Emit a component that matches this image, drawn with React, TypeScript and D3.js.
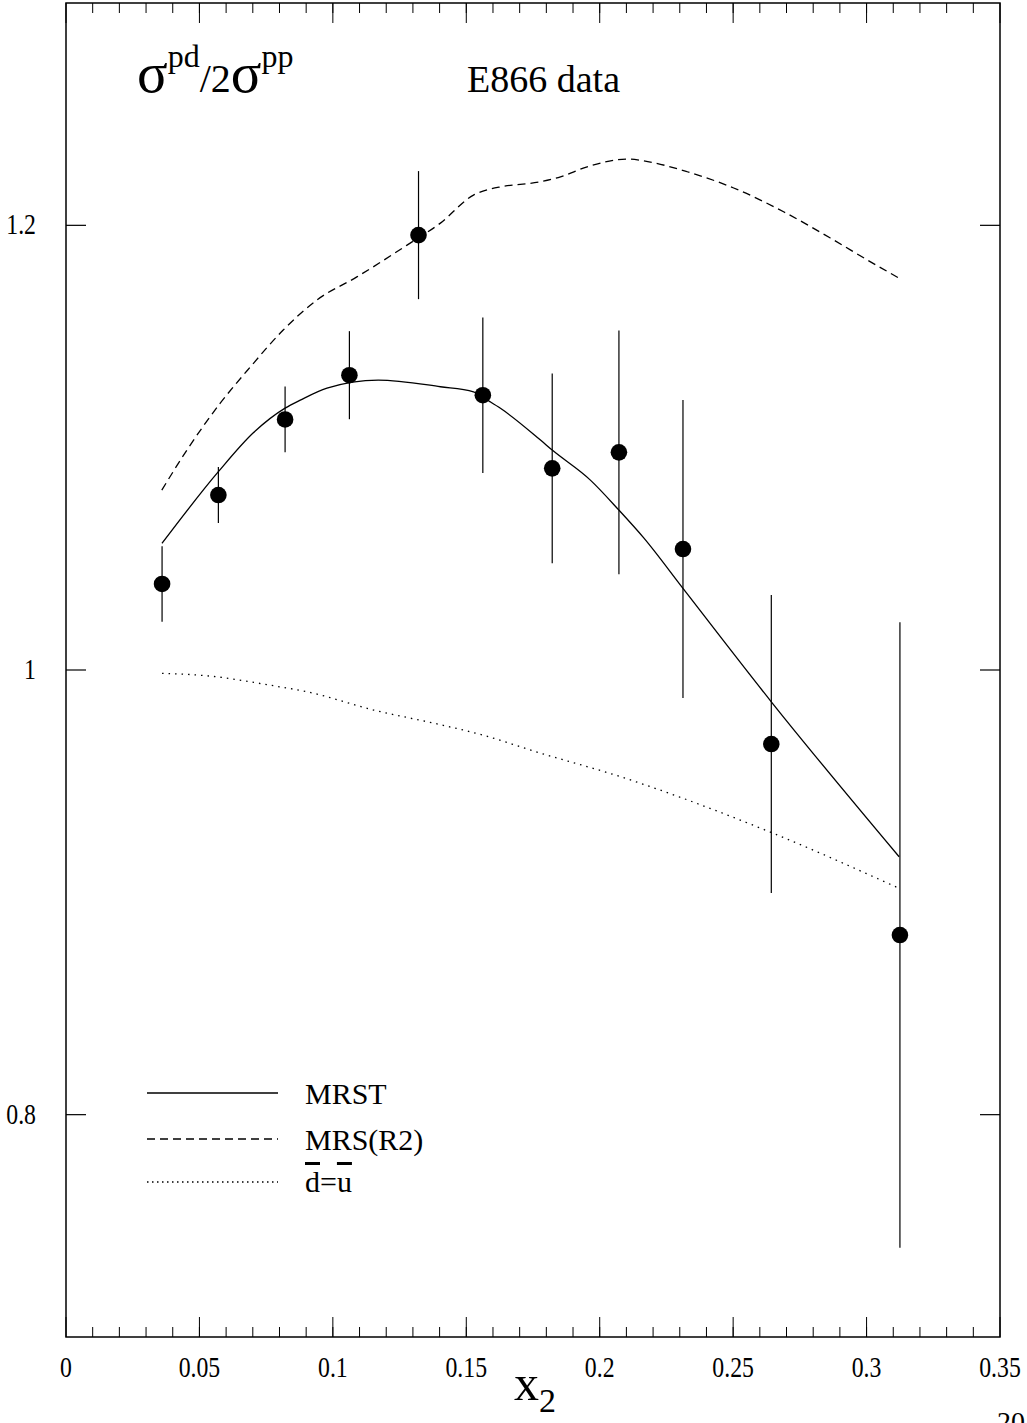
import React from 'react';
import * as d3 from 'd3';

// E866 data points
const pointX = [0.036, 0.0571, 0.0821, 0.1062, 0.1321, 0.1562, 0.1822, 0.2072, 0.2312, 0.2643, 0.3125];
const pointY = [1.0387, 1.0787, 1.1127, 1.1326, 1.1956, 1.1236, 1.0907, 1.0979, 1.0544, 0.9667, 0.8808];
const pointErr = [0.017, 0.0126, 0.0148, 0.0198, 0.0288, 0.035, 0.0427, 0.0548, 0.067, 0.067, 0.1407];

// MRST curve
const mrstX = [0.036, 0.0571, 0.0701, 0.0821, 0.0878, 0.0978, 0.117, 0.1403, 0.1527, 0.159, 0.1628, 0.1778, 0.1822, 0.1965, 0.2072, 0.2165, 0.2312, 0.2643, 0.3122];
const mrstY = [1.057, 1.0892, 1.1066, 1.1178, 1.1214, 1.1268, 1.1304, 1.1274, 1.1251, 1.1206, 1.1177, 1.1034, 1.0989, 1.0854, 1.0719, 1.0594, 1.0367, 0.9857, 0.916];

// MRS(R2) curve
const r2X = [0.0359, 0.0453, 0.0578, 0.069, 0.0814, 0.094, 0.109, 0.1278, 0.1403, 0.1527, 0.159, 0.1628, 0.1778, 0.1853, 0.1953, 0.2103, 0.2164, 0.2328, 0.2502, 0.2689, 0.2877, 0.3003, 0.3121];
const r2Y = [1.0809, 1.0989, 1.12, 1.1362, 1.1529, 1.1664, 1.1768, 1.1911, 1.201, 1.2136, 1.2163, 1.2173, 1.2196, 1.2218, 1.2263, 1.2298, 1.229, 1.2241, 1.2168, 1.2061, 1.1934, 1.1844, 1.1763];

// dbar = ubar curve
const symX = [0.036, 0.0528, 0.0778, 0.0903, 0.1153, 0.1403, 0.156, 0.1759, 0.2078, 0.2643, 0.3122];
const symY = [0.9985, 0.9974, 0.9929, 0.9902, 0.982, 0.9754, 0.9708, 0.9633, 0.952, 0.9269, 0.9018];

const xTickLabels = ['0', '0.05', '0.1', '0.15', '0.2', '0.25', '0.3', '0.35'];
const yTickValues = [0.8, 1.0, 1.2];
const yTickLabels = ['0.8', '1', '1.2'];

const width = 1027;
const height = 1423;
const margin = { top: 3, left: 66, bottom: 86, right: 27 };

export default function App() {
  const x = d3.scaleLinear().domain([0, 0.35]).range([margin.left, width - margin.right]);
  const y = d3.scaleLinear().domain([0.7, 1.3]).range([height - margin.bottom, margin.top]);

  const line = d3.line<[number, number]>()
    .x(d => x(d[0]))
    .y(d => y(d[1]))
    .curve(d3.curveMonotoneX);

  const zip = (a: number[], b: number[]) => a.map((v, i) => [v, b[i]] as [number, number]);

  const minor = d3.range(1, 35).map(i => i / 100);
  const major = d3.range(0, 8).map(i => i * 0.05);
  const x0 = x(0), x1 = x(0.35), yT = y(1.3), yB = y(0.7);
  const font = '"Liberation Serif", "Times New Roman", serif';

  return (
    <svg width={width} height={height} style={{ position: 'absolute', left: 0, top: 0, background: '#fff' }}
      fontFamily={font}>
      <rect x={0} y={0} width={width} height={height} fill="#fff" />

      {/* frame */}
      <rect x={x0} y={yT} width={x1 - x0} height={yB - yT} fill="none" stroke="#000" strokeWidth={1.5} />

      {/* x ticks */}
      {minor.map((t, i) => (
        <g key={'mi' + i} stroke="#000" strokeWidth={1}>
          <line x1={x(t)} x2={x(t)} y1={yB} y2={yB - 10} />
          <line x1={x(t)} x2={x(t)} y1={yT} y2={yT + 10} />
        </g>
      ))}
      {major.map((t, i) => (
        <g key={'ma' + i} stroke="#000" strokeWidth={1}>
          <line x1={x(t)} x2={x(t)} y1={yB} y2={yB - 20} />
          <line x1={x(t)} x2={x(t)} y1={yT} y2={yT + 20} />
        </g>
      ))}
      {major.map((t, i) => (
        <text key={'xl' + i} x={x(t)} y={yB + 40} fontSize={29} textAnchor="middle"
          transform={`translate(${x(t)},0) scale(0.82,1) translate(${-x(t)},0)`}>{xTickLabels[i]}</text>
      ))}

      {/* y ticks */}
      {yTickValues.map((t, i) => (
        <g key={'yt' + i}>
          <line x1={x0} x2={x0 + 20} y1={y(t)} y2={y(t)} stroke="#000" strokeWidth={1.2} />
          <line x1={x1} x2={x1 - 20} y1={y(t)} y2={y(t)} stroke="#000" strokeWidth={1.2} />
          <text x={36} y={y(t) + 9} fontSize={29} textAnchor="end"
            transform={`translate(36,0) scale(0.82,1) translate(-36,0)`}>{yTickLabels[i]}</text>
        </g>
      ))}

      {/* curves */}
      <path d={line(zip(mrstX, mrstY)) || ''} fill="none" stroke="#000" strokeWidth={1.3} />
      <path d={line(zip(r2X, r2Y)) || ''} fill="none" stroke="#000" strokeWidth={1.3} strokeDasharray="8,5" />
      <path d={line(zip(symX, symY)) || ''} fill="none" stroke="#000" strokeWidth={1.3} strokeDasharray="1.5,5" />

      {/* data */}
      {pointX.map((px, i) => (
        <g key={'p' + i}>
          <line x1={x(px)} x2={x(px)} y1={y(pointY[i] - pointErr[i])} y2={y(pointY[i] + pointErr[i])}
            stroke="#000" strokeWidth={1.2} />
          <circle cx={x(px)} cy={y(pointY[i])} r={8.3} fill="#000" />
        </g>
      ))}

      {/* title */}
      <text x={137} y={92} fontSize={40}>
        <tspan fontSize={57}>σ</tspan>
        <tspan fontSize={32} dy={-25}>pd</tspan>
        <tspan dy={25}>/2</tspan>
        <tspan fontSize={57}>σ</tspan>
        <tspan fontSize={32} dy={-25}>pp</tspan>
      </text>
      <text x={467} y={92} fontSize={38}>E866 data</text>

      {/* legend */}
      <line x1={147} x2={278} y1={1093} y2={1093} stroke="#000" strokeWidth={1.3} />
      <line x1={147} x2={278} y1={1139} y2={1139} stroke="#000" strokeWidth={1.3} strokeDasharray="8,5" />
      <line x1={147} x2={278} y1={1182} y2={1182} stroke="#000" strokeWidth={1.3} strokeDasharray="1.5,3.5" />
      <text x={305} y={1104} fontSize={30}>MRST</text>
      <text x={305} y={1150} fontSize={30}>MRS(R2)</text>
      <text x={305} y={1192} fontSize={30}>
        <tspan style={{ textDecoration: 'overline', textDecorationThickness: '1px' }}>d</tspan>=<tspan style={{ textDecoration: 'overline', textDecorationThickness: '1px' }}>u</tspan>
      </text>

      {/* axis title */}
      <text x={514} y={1400} fontSize={50}>
        x<tspan fontSize={34} dy={12}>2</tspan>
      </text>

      <text x={997} y={1431} fontSize={28}>20</text>
    </svg>
  );
}
